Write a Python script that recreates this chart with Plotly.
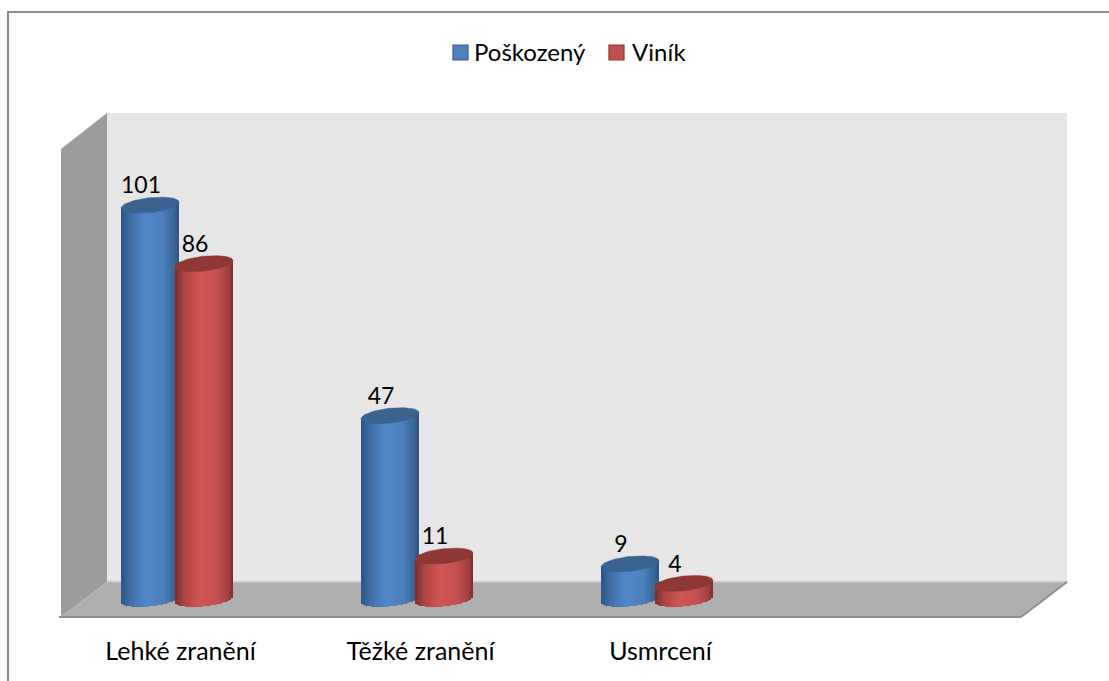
import numpy as np
import plotly.graph_objects as go

# ---- data ----
categories = ["Lehké zranění", "Těžké zranění", "Usmrcení"]
series_names = ["Poškozený", "Viník"]
poskozeny = [101, 47, 9]
vinik = [86, 11, 4]

# ---- page geometry (pixels) ----
W, H = 1109, 681
PX_PER_CAT = 240.0
PX_PER_UNIT = 3.9
X0_PX, Y0_PX = 180.5, 599.0        # where category 0 / value 0 sit
TOP_PX, BOT_PX = 113.0, 617.0      # plot area

def xv(px):
    return (px - X0_PX) / PX_PER_CAT

def px_paper(px, py):
    return px / W, (BOT_PX - py) / (BOT_PX - TOP_PX)

def poly(points, fill, line=None, lw=0):
    pts = [px_paper(*p) for p in points]
    path = "M " + " L ".join(f"{a:.5f},{b:.5f}" for a, b in pts) + " Z"
    return dict(type="path", xref="paper", yref="paper", path=path, fillcolor=fill,
                line=dict(color=line or fill, width=lw), layer="below")

def seg(p, q, color, lw):
    a, b = px_paper(*p)
    c, d = px_paper(*q)
    return dict(type="line", xref="paper", yref="paper", x0=a, y0=b, x1=c, y1=d,
                line=dict(color=color, width=lw), layer="below")

SWATCH = {0: ("#4f81bd", "#385d8a"), 1: ("#c0504d", "#8c3836")}
LEGEND_PX = {0: (453, 473), 1: (609, 631)}   # swatch left, text left
LEGEND_Y = 53

shapes = [
    poly([(107, 113), (1067, 113), (1067, 582), (107, 582)], "#e6e6e6"),
    poly([(61, 149), (107, 113), (107, 582), (61, 617)], "#9c9c9c"),
    poly([(61, 617), (107, 582), (1067, 582), (1021, 617)], "#afafaf"),
    seg((107, 582), (1067, 582), "#c4c4c4", 1.5),
    seg((59, 617), (1021, 617), "#8e8e8e", 2),
    seg((1021, 617), (1067, 582), "#8e8e8e", 2),
    seg((7, 12), (1109, 12), "#8a8a8a", 2),
    seg((8, 12), (8, 681), "#8a8a8a", 2),
]
annotations = []
for i, name in enumerate(series_names):
    sx, tx = LEGEND_PX[i]
    shapes.append(poly([(sx, LEGEND_Y - 8), (sx + 15, LEGEND_Y - 8), (sx + 15, LEGEND_Y + 7), (sx, LEGEND_Y + 7)],
                       SWATCH[i][0], SWATCH[i][1], 1.2))
    ax, ay = px_paper(tx, LEGEND_Y - 1)
    annotations.append(dict(xref="paper", yref="paper", x=ax, y=ay, text=name, showarrow=False,
                            xanchor="left", yanchor="middle",
                            font=dict(family="Lato", size=24, color="#000000"), borderpad=0))

# ---- cylinder styling ----
HALF_W = 29.0 / PX_PER_CAT
TILT = 3.0 / PX_PER_UNIT
ARC = 7.4 / PX_PER_UNIT
N = 29
OFFSET = {0: -30.5 / PX_PER_CAT, 1: 23.5 / PX_PER_CAT}
STOPS = [-1.0, -0.65, -0.15, 0.45, 0.85, 1.0]
BODY = {
    0: [(0x2c, 0x56, 0x88), (0x42, 0x70, 0xa8), (0x52, 0x87, 0xca), (0x4e, 0x80, 0xbd), (0x3a, 0x65, 0x97), (0x2d, 0x52, 0x80)],
    1: [(0x7c, 0x2e, 0x2c), (0xad, 0x46, 0x43), (0xcf, 0x56, 0x53), (0xc6, 0x50, 0x4d), (0xa0, 0x40, 0x3e), (0x78, 0x2c, 0x2a)],
}
CAP = {0: "#3a638f", 1: "#8e3735"}

def shade(i, t):
    rgb = [np.interp(t, STOPS, [c[k] for c in BODY[i]]) for k in range(3)]
    return "rgb(%d,%d,%d)" % tuple(int(v) for v in rgb)

fig = go.Figure()
ts = (np.arange(N) + 0.5) / N * 2 - 1
theta = np.linspace(0, 2 * np.pi, 73)
for i, (name, values) in enumerate(zip(series_names, [poskozeny, vinik])):
    xs, bases, heights, colors = [], [], [], []
    for c, v in enumerate(values):
        for t in ts:
            low = -ARC * np.sqrt(1 - t * t) + TILT * t
            top = v + TILT * t
            xs.append(c + OFFSET[i] + HALF_W * t)
            bases.append(low)
            heights.append(top - low)
            colors.append(shade(i, t))
    fig.add_trace(go.Bar(x=xs, y=heights, base=bases, width=2 * HALF_W / N, name=name,
                         marker=dict(color=colors, line=dict(width=0)),
                         showlegend=False, hoverinfo="skip"))
    # top caps
    for c, v in enumerate(values):
        fig.add_trace(go.Scatter(
            x=c + OFFSET[i] + HALF_W * np.cos(theta),
            y=v + TILT * np.cos(theta) + ARC * np.sin(theta),
            mode="lines", fill="toself", fillcolor=CAP[i],
            line=dict(color=CAP[i], width=0.5), showlegend=False, hoverinfo="skip"))
    # value labels
    fig.add_trace(go.Scatter(
        x=[c + OFFSET[i] - 9.0 / PX_PER_CAT for c in range(len(values))],
        y=[v + 17.5 / PX_PER_UNIT for v in values],
        mode="text", text=[str(v) for v in values], textposition="middle center",
        textfont=dict(family="Lato", size=23, color="#000000"),
        showlegend=False, hoverinfo="skip", cliponaxis=False))

fig.update_layout(
    width=W, height=H, autosize=False,
    margin=dict(l=0, r=0, t=TOP_PX, b=H - BOT_PX, pad=0),
    paper_bgcolor="#ffffff", plot_bgcolor="rgba(0,0,0,0)",
    barmode="overlay", bargap=0, shapes=shapes, annotations=annotations, showlegend=False,
    font=dict(family="Lato", size=25, color="#000000"),
    xaxis=dict(range=[xv(0), xv(W)], tickmode="array", tickvals=list(range(len(categories))),
               ticktext=categories, showgrid=False, zeroline=False, showline=False, ticks="",
               ticklabelstandoff=17, tickfont=dict(family="Lato", size=25, color="#000000")),
    yaxis=dict(range=[(Y0_PX - BOT_PX) / PX_PER_UNIT, (Y0_PX - TOP_PX) / PX_PER_UNIT],
               showgrid=False, zeroline=False, showline=False, showticklabels=False, ticks=""),
)
fig.write_html("out.html", config=dict(displayModeBar=False),
               post_script="document.body.style.margin='0';document.documentElement.style.overflow='hidden';")
